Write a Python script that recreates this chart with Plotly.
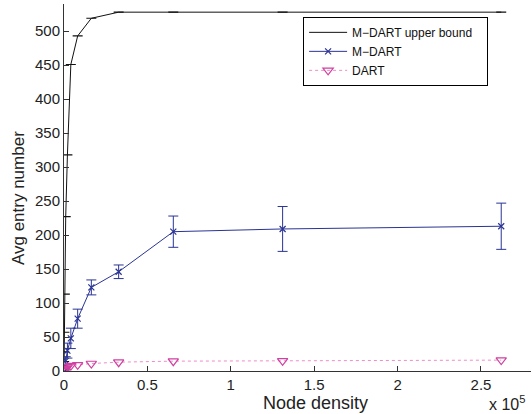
import plotly.graph_objects as go

node_density = [64, 128, 256, 512, 1024, 2048, 4096, 8192, 16384, 32768, 65536, 131072, 262144]
upper_bound = [14, 28, 57, 113, 227, 318, 451, 493, 519, 528, 528, 528, 528]
upper_err = [0, 0, 0, 0, 0, 0, 0, 0, 0, 0, 0, 0, 0]
mdart = [0.5, 1.5, 3, 7, 15, 30, 48, 77, 123, 146, 205, 209, 213]
mdart_err = [0.3, 0.6, 1.5, 3, 6, 11, 15, 14, 11, 10, 23, 33, 34]
dart = [0.5, 1, 2, 3, 4, 6, 8, 9, 11, 13, 14.5, 15, 16]

x_tickvals = [0, 50000, 100000, 150000, 200000, 250000]
x_ticktext = ["0", "0.5", "1", "1.5", "2", "2.5"]
y_tickvals = [0, 50, 100, 150, 200, 250, 300, 350, 400, 450, 500]

fig = go.Figure()
fig.add_trace(go.Scatter(
    x=node_density, y=upper_bound, name="M\u2212DART upper bound\u00a0\u00a0\u00a0", mode="lines",
    line=dict(color="#111111", width=1),
    error_y=dict(type="data", array=upper_err, color="#111111", thickness=1.2, width=5),
))
fig.add_trace(go.Scatter(
    x=node_density, y=mdart, name="M\u2212DART", mode="lines+markers",
    line=dict(color="#2a3494", width=1),
    marker=dict(symbol="x-thin", size=6, color="#2a3494", line=dict(width=1.2, color="#2a3494")),
    error_y=dict(type="data", array=mdart_err, color="#2a3494", thickness=1, width=5),
))
fig.add_trace(go.Scatter(
    x=node_density, y=dart, name="DART", mode="lines+markers",
    line=dict(color="#f08cc8", width=1, dash="dot"),
    marker=dict(symbol="triangle-down-open", size=9, color="#d040a0", line=dict(width=1.2)),
))

fig.update_layout(
    width=532, height=414,
    margin=dict(l=64, r=1, t=4, b=43),
    plot_bgcolor="white", paper_bgcolor="white",
    font=dict(family="Liberation Sans, Arial, sans-serif", color="#222222", size=15),
    showlegend=True,
    legend=dict(
        x=0.512, y=0.965, xanchor="left", yanchor="top",
        bordercolor="#000000", borderwidth=1, bgcolor="white",
        font=dict(size=12, color="#111111"), tracegroupgap=0, itemwidth=38,
    ),
    xaxis=dict(
        range=[0, 280000], tickvals=x_tickvals, ticktext=x_ticktext,
        ticks="inside", ticklen=5, tickcolor="#333333",
        showline=True, linecolor="#333333", linewidth=1,
        showgrid=False, zeroline=False,
        tickfont=dict(size=15),
    ),
    yaxis=dict(
        range=[0, 540], tickvals=y_tickvals,
        ticks="inside", ticklen=5, tickcolor="#333333",
        showline=True, linecolor="#333333", linewidth=1,
        showgrid=False, zeroline=False,
        tickfont=dict(size=15),
    ),
    annotations=[
        dict(x=0.538, y=0, xref="paper", yref="paper", xanchor="center", yanchor="middle",
             yshift=-32, text="Node density", showarrow=False, font=dict(size=18)),
        dict(x=-0.0973, y=0.47, xref="paper", yref="paper", xanchor="center", yanchor="middle",
             text="Avg entry number", textangle=-90, showarrow=False, font=dict(size=17)),
        dict(x=0.9914, y=0, xref="paper", yref="paper", xanchor="right", yanchor="middle",
             yshift=-32, text="x 10<sup>5</sup>", showarrow=False, font=dict(size=16)),
    ],
)

fig.write_html("out.html")
